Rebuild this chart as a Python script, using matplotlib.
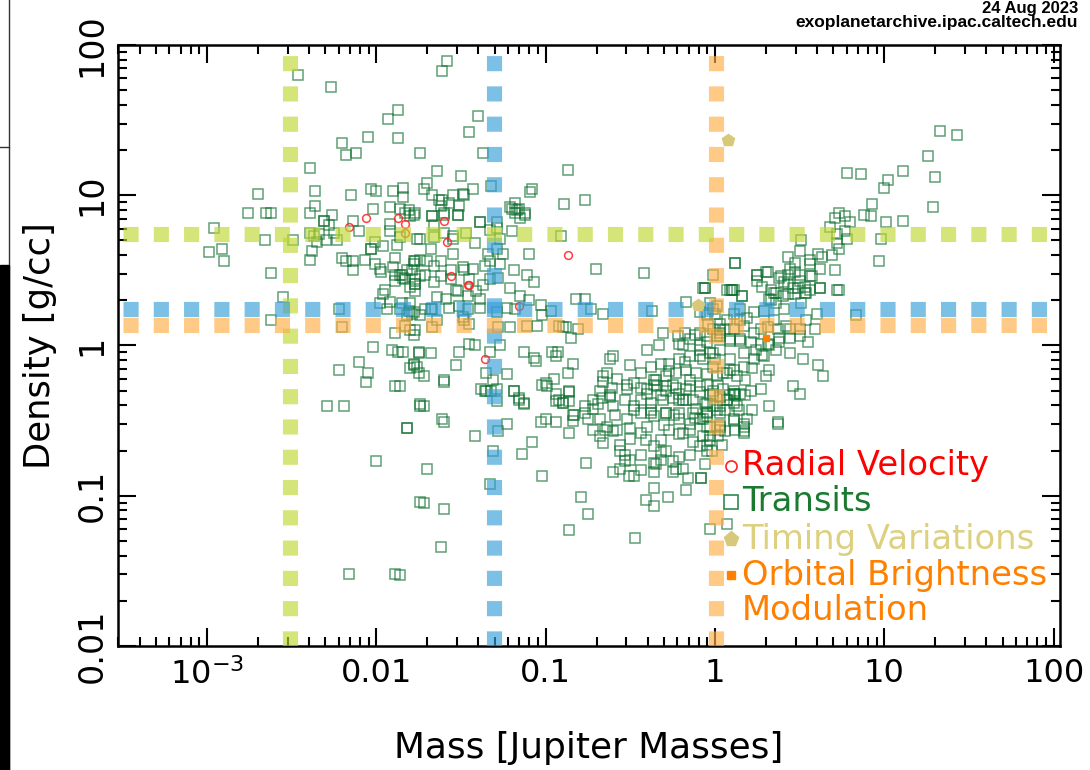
import numpy as np
import matplotlib
matplotlib.use("Agg")
import matplotlib.pyplot as plt
from matplotlib.ticker import FixedLocator, LogLocator, NullFormatter
from matplotlib.patches import Rectangle
from matplotlib.lines import Line2D

plt.rcParams['font.family'] = ['DejaVu Sans']
plt.rcParams['mathtext.default'] = 'regular'

# reference planets: Earth, Neptune, Jupiter (mass [MJ], density [g/cc])
ref_names = ["Earth", "Neptune", "Jupiter"]
ref_mass = [0.00308, 0.0495, 1.02]
ref_dens = [5.51, 1.74, 1.37]
ref_colors = ["#c0d732", "#379ed8", "#ffac46"]

x_ticks = [1e-3, 1e-2, 1e-1, 1, 10, 100]
x_ticklabels = [r"$10^{-3}$", "0.01", "0.1", "1", "10", "100"]
y_ticks = [0.01, 0.1, 1, 10, 100]
y_ticklabels = ["0.01", "0.1", "1", "10", "100"]

# values, as (log10 mass, log10 density)
rv_pts = [(-2.16, 0.79), (-2.06, 0.85), (-1.87, 0.85), (-1.83, 0.81), (-1.83, 0.75),
          (-1.60, 0.83), (-1.58, 0.69), (-1.56, 0.46), (-1.46, 0.40), (-1.455, 0.405),
          (-0.87, 0.60), (-1.36, -0.09), (-1.16, 0.26)]

ttv_pts = [(0.077, 1.367), (-0.10, 0.267)]
obm_pts = [(0.30, 0.047)]

transits_a = [(-2.46, 1.80), (-2.27, 1.72), (-1.87, 1.57), (-1.93, 1.51), (-2.05, 1.39), (-1.87, 1.38),
              (-2.20, 1.35), (-2.18, 1.27), (-2.12, 1.28), (-1.74, 1.28), (-2.39, 1.18), (-2.70, 1.01),
              (-2.36, 1.03), (-2.15, 1.00), (-2.03, 1.04), (-2.00, 1.03), (-1.90, 1.03), (-1.84, 1.05),
              (-1.84, 0.99), (-2.36, 0.93), (-2.76, 0.88), (-2.65, 0.88), (-2.62, 0.88), (-2.39, 0.88),
              (-2.26, 0.87), (-2.02, 0.91), (-1.92, 0.92), (-1.86, 0.91), (-1.81, 0.90), (-2.14, 0.83),
              (-2.31, 0.83), (-1.92, 0.81), (-2.96, 0.78), (-1.78, 0.87)]

transits_b = [(-1.585, 1.895), (-1.61, 1.83), (-1.40, 1.53), (-1.45, 1.42), (-1.37, 1.28), (-1.64, 1.16),
              (-1.50, 1.13), (-0.87, 1.17), (-1.72, 1.04), (-1.70, 1.08), (-1.67, 1.00), (-1.63, 0.97),
              (-1.61, 0.97), (-1.57, 0.95), (-1.55, 1.00), (-1.49, 1.01), (-1.48, 1.00), (-1.43, 1.04),
              (-1.32, 1.06), (-1.09, 1.02), (-1.08, 1.04), (-0.89, 0.94), (-0.77, 0.97), (-1.18, 0.95),
              (-1.20, 0.91), (-1.17, 0.90), (-1.12, 0.88), (-1.15, 0.85), (-1.39, 0.82), (-1.52, 0.87),
              (-1.67, 0.86), (-1.60, 0.87), (-1.83, 0.88), (-1.33, 0.77), (-1.29, 0.78), (-1.20, 0.76),
              (-0.91, 0.73), (-1.55, 0.73)]

transits_c = [(-2.99, 0.62), (-2.91, 0.64), (-2.90, 0.56), (-2.66, 0.70), (-2.49, 0.70), (-2.62, 0.48),
              (-2.55, 0.32), (-2.62, 0.17), (-2.22, 0.24), (-2.20, 0.12), (-2.38, 0.63), (-2.39, 0.57),
              (-2.39, 0.75), (-2.37, 0.73), (-2.34, 0.74), (-2.30, 0.70), (-2.35, 0.69), (-2.25, 0.75),
              (-2.23, 0.70), (-2.28, 0.80), (-2.31, 0.83), (-2.20, 0.58), (-2.18, 0.56), (-2.14, 0.56),
              (-2.14, 0.50), (-2.07, 0.57), (-2.03, 0.64), (-2.01, 0.69), (-2.01, 0.54), (-1.96, 0.66),
              (-1.97, 0.49), (-1.92, 0.76), (-1.88, 0.67), (-1.89, 0.58), (-1.90, 0.52), (-1.89, 0.47),
              (-1.85, 0.47), (-1.84, 0.45), (-1.79, 0.50), (-1.78, 0.56), (-1.77, 0.44), (-1.77, 0.36),
              (-1.77, 0.41), (-1.95, 0.37), (-1.96, 0.34), (-1.98, 0.28), (-1.94, 0.24), (-1.92, 0.29),
              (-1.85, 0.28), (-1.81, 0.23), (-1.79, 0.21), (-1.89, 0.08), (-1.80, 0.10), (-1.78, 0.07),
              (-2.02, -0.01), (-1.91, -0.03), (-1.87, -0.04), (-1.75, -0.04), (-2.10, -0.11), (-2.22, -0.16),
              (-2.05, -0.18), (-2.06, -0.24), (-1.89, -0.27), (-1.80, -0.15), (-1.78, -0.13), (-1.75, -0.18),
              (-2.29, -0.40), (-2.19, -0.40), (-1.74, -0.40), (-1.82, -0.55), (-2.00, -0.77), (-1.74, -1.04),
              (-2.16, -1.52), (-1.89, -1.52)]

transits_d = [(-1.80, 0.86), (-1.77, 0.88), (-1.67, 0.86), (-1.66, 0.80), (-1.62, 0.93), (-1.60, 0.88),
              (-1.52, 0.87), (-1.51, 0.93), (-1.39, 0.82), (-1.29, 0.82), (-1.18, 0.88), (-1.12, 0.87),
              (-1.16, 0.91), (-1.21, 0.92), (-1.86, 0.72), (-1.76, 0.71), (-1.66, 0.72), (-1.60, 0.75),
              (-1.55, 0.71), (-1.47, 0.75), (-1.42, 0.68), (-1.29, 0.64), (-1.25, 0.61), (-1.34, 0.61),
              (-1.10, 0.61), (-1.11, 0.47), (-1.19, 0.50), (-1.27, 0.54), (-1.36, 0.53), (-1.43, 0.51),
              (-1.48, 0.50), (-1.56, 0.50), (-1.62, 0.46), (-1.66, 0.53), (-1.70, 0.56), (-1.74, 0.57),
              (-1.78, 0.54), (-1.82, 0.50), (-1.86, 0.47), (-1.83, 0.44), (-1.77, 0.41), (-1.74, 0.46),
              (-1.66, 0.42), (-1.56, 0.44), (-1.53, 0.37), (-1.46, 0.33), (-1.41, 0.36), (-1.37, 0.40),
              (-1.33, 0.44), (-1.28, 0.45), (-1.21, 0.38), (-1.15, 0.33), (-1.07, 0.42), (-1.10, 0.30),
              (-1.18, 0.24), (-1.23, 0.25), (-1.29, 0.22), (-1.39, 0.25), (-1.46, 0.24), (-1.51, 0.26),
              (-1.57, 0.25), (-1.64, 0.32), (-1.68, 0.24), (-1.71, 0.24), (-1.80, 0.28), (-1.78, 0.22),
              (-1.86, 0.24), (-1.82, 0.20), (-1.64, 0.17), (-1.67, 0.12), (-1.77, 0.10), (-1.83, 0.13),
              (-1.74, 0.20), (-1.48, 0.17), (-1.45, 0.14), (-1.28, 0.12), (-1.21, 0.12), (-1.11, 0.13),
              (-1.03, 0.27), (-1.02, 0.20), (-1.05, 0.13), (-0.97, 0.23), (-0.88, 0.12), (-0.90, 0.12),
              (-0.85, 0.05), (-0.96, -0.04), (-0.93, -0.04), (-0.94, -0.07), (-0.84, -0.12), (-1.13, -0.04),
              (-1.07, -0.08), (-1.06, -0.10), (-1.27, 0.00), (-1.45, 0.01), (-1.42, 0.00), (-1.51, -0.04),
              (-1.33, -0.04), (-1.68, -0.05), (-1.75, -0.05), (-1.84, -0.04), (-1.76, -0.14), (-1.78, -0.12),
              (-1.72, -0.20), (-1.60, -0.23), (-1.53, -0.13), (-1.35, -0.18), (-1.31, -0.23), (-1.23, -0.19),
              (-1.29, -0.29), (-1.35, -0.30), (-1.38, -0.29), (-1.19, -0.30), (-1.16, -0.36), (-1.13, -0.38),
              (-1.00, -0.25), (-0.95, -0.22), (-0.87, -0.18), (-0.86, -0.30), (-0.94, -0.37), (-0.90, -0.38),
              (-0.72, -0.36), (-0.77, -0.40), (-0.84, -0.46), (-0.62, -0.34), (-0.68, -0.30), (-0.64, -0.18),
              (-0.60, -0.07), (-0.62, -0.09), (-0.58, -0.22), (-0.52, -0.29), (-0.50, -0.13), (-0.70, 0.51),
              (-0.42, 0.48), (-0.37, 0.23), (-0.66, 0.21), (-0.73, 0.24), (-0.81, 0.11), (-0.92, 0.13),
              (-0.77, 0.31), (-0.82, 0.31), (-1.74, -0.39), (-1.61, -0.49)]

transits_d2 = [(-1.68, 0.64), (-1.62, 0.56), (-1.55, 0.61), (-1.49, 0.52), (-1.45, 0.44), (-1.71, 0.47),
               (-1.77, 0.56), (-1.52, 0.36), (-1.59, 0.31), (-1.39, 0.31), (-1.33, 0.56), (-1.27, 0.71),
               (-1.74, 0.71), (-1.80, 0.39), (-1.67, 0.24), (-1.49, 0.19), (-1.98, 0.51), (-1.89, 0.43),
               (-2.03, 0.64), (-2.10, 0.76)]

transits_e = [(-0.40, -0.03), (-0.33, 0.00), (-0.31, 0.08), (-0.22, 0.06), (-0.19, 0.00), (-0.15, 0.04),
              (-0.09, 0.00), (-0.05, 0.02), (0.01, 0.06), (0.03, 0.08), (0.09, 0.04), (-0.01, -0.05),
              (-0.09, -0.07), (-0.15, -0.07), (-0.21, -0.09), (-0.27, -0.12), (-0.32, -0.12), (-0.38, -0.14),
              (-0.44, -0.18), (-0.36, -0.23), (-0.29, -0.20), (-0.23, -0.18), (-0.17, -0.16), (-0.11, -0.18),
              (-0.05, -0.19), (0.01, -0.20), (0.07, -0.18), (0.13, -0.20), (-0.48, -0.25), (-0.40, -0.29),
              (-0.34, -0.27), (-0.29, -0.27), (-0.23, -0.28), (-0.17, -0.29), (-0.09, -0.27), (-0.01, -0.30),
              (0.05, -0.29), (0.11, -0.30), (-0.44, -0.36), (-0.38, -0.38), (-0.31, -0.36), (-0.25, -0.35),
              (-0.19, -0.36), (-0.13, -0.36), (-0.05, -0.38), (0.03, -0.40), (0.11, -0.38), (-0.48, -0.43),
              (-0.38, -0.45), (-0.29, -0.45), (-0.21, -0.45), (-0.13, -0.45), (-0.05, -0.47), (0.03, -0.45),
              (-0.06, 0.38), (0.07, 0.37), (0.10, 0.37), (0.12, 0.55), (-0.17, 0.29), (-0.01, 0.24),
              (0.01, 0.26), (-0.05, 0.20), (0.03, 0.10), (-0.09, 0.08), (-0.18, 0.08)]

transits_e2 = [(-0.15, -0.23), (-0.09, -0.31), (-0.06, -0.39), (-0.12, -0.48), (-0.21, -0.36), (-0.25, -0.26),
               (-0.32, -0.33), (-0.38, -0.43), (-0.30, -0.53), (-0.21, -0.59), (-0.03, -0.63), (0.03, -0.53),
               (0.06, -0.43), (0.12, -0.33), (0.18, -0.23), (0.09, -0.16), (0.00, -0.09), (-0.09, -0.03),
               (-0.18, -0.11), (-0.27, -0.17), (-0.35, -0.23), (-0.44, -0.28), (-0.53, -0.36), (-0.59, -0.46),
               (-0.50, -0.55), (-0.41, -0.63), (-0.32, -0.71), (-0.15, -0.73), (-0.06, -0.79), (0.15, 0.04),
               (0.24, -0.03), (0.27, 0.11), (0.35, 0.17), (0.41, 0.24), (0.32, 0.31), (0.47, 0.34),
               (0.50, 0.47), (0.56, 0.37), (0.62, 0.51), (0.44, 0.11), (0.15, 0.17), (0.06, 0.11),
               (-0.04, 0.14), (-0.12, 0.07), (-0.21, 0.01), (-0.66, -0.20), (-0.61, -0.28), (-0.69, -0.39),
               (-0.75, -0.49), (-0.65, -0.56), (-0.56, -0.66), (-0.44, -0.73), (-0.35, -0.79), (-0.25, -0.84),
               (-0.16, -0.88), (-0.44, -0.83), (-0.53, -0.77), (-0.09, -0.49), (-0.15, -0.56), (-0.24, -0.46),
               (-0.03, -0.33), (0.02, -0.26), (0.08, -0.33), (0.14, -0.43), (0.19, -0.49), (0.12, -0.56),
               (0.04, -0.66), (0.18, -0.33), (0.22, -0.15), (0.28, -0.06), (0.31, 0.01), (0.38, 0.05),
               (-0.92, -0.36), (-0.83, -0.46), (-1.00, -0.49)]

transits_f = [(-1.86, -0.27), (-1.72, -0.40), (-1.60, -0.24), (-1.82, -0.55), (-1.60, -0.51), (-1.42, -0.60),
              (-1.70, -0.82), (-1.72, -1.05), (-1.60, -1.09), (-1.62, -1.34), (-1.86, -1.53), (-1.32, -0.30),
              (-1.36, -0.30), (-1.29, -0.37), (-1.19, -0.30), (-1.16, -0.35), (-1.13, -0.39), (-1.02, -0.26),
              (-0.99, -0.27), (-0.94, -0.32), (-0.90, -0.38), (-0.86, -0.31), (-0.86, -0.37), (-1.03, -0.51),
              (-0.94, -0.51), (-0.84, -0.50), (-1.28, -0.57), (-1.23, -0.52), (-1.31, -0.70), (-1.33, -0.92),
              (-1.08, -0.64), (-1.14, -0.72), (-1.02, -0.87), (-0.86, -0.58), (-0.77, -0.45), (-0.68, -0.49),
              (-0.72, -0.42), (-0.67, -0.35), (-0.62, -0.33), (-0.60, -0.40), (-0.76, -0.78), (-0.79, -1.01),
              (-0.75, -1.12), (-0.86, -1.23), (-0.47, -1.28), (-0.36, -0.95), (-0.41, -1.03), (-0.36, -1.07),
              (-0.28, -1.01), (-0.17, -0.96), (-0.08, -0.88), (-0.03, -1.22), (0.07, -1.19), (-0.51, -0.87),
              (-0.48, -0.87), (-0.60, -0.84), (-0.56, -0.82), (-0.50, -0.76), (-0.56, -0.70), (-0.53, -0.73),
              (-0.60, -0.57), (-0.68, -0.60), (-0.72, -0.56), (-0.66, -0.65), (-0.50, -0.62), (-0.44, -0.58),
              (-0.40, -0.54), (-0.36, -0.67), (-0.32, -0.63), (-0.29, -0.70), (-0.25, -0.77), (-0.21, -0.74),
              (-0.19, -0.82), (-0.23, -0.82), (-0.36, -0.84), (-0.36, -0.78), (-0.32, -0.76), (-0.27, -0.56),
              (-0.19, -0.58), (-0.13, -0.64), (-0.09, -0.67), (-0.05, -0.70), (-0.15, -0.52), (-0.21, -0.49),
              (-0.29, -0.45), (-0.36, -0.47), (-0.44, -0.45), (-0.48, -0.40), (-0.52, -0.49), (-0.58, -0.56),
              (-0.64, -0.54), (-0.40, -0.32), (-0.36, -0.26), (-0.29, -0.30), (-0.21, -0.32), (-0.17, -0.36),
              (-0.11, -0.42), (-0.05, -0.44), (0.01, -0.43), (0.07, -0.36), (0.11, -0.32), (-0.52, -0.26),
              (-0.66, -0.24), (-0.15, -0.27), (-0.05, -0.26), (-0.01, -0.32)]

transits_g = [(0.12, 0.55), (-0.07, 0.38), (0.10, 0.37), (0.16, 0.33), (0.25, 0.47), (0.31, 0.49),
              (0.38, 0.45), (0.43, 0.41), (0.50, 0.43), (0.56, 0.46), (0.62, 0.38), (0.72, 0.37),
              (0.51, 0.28), (0.54, 0.35), (0.43, 0.34), (0.35, 0.35), (0.33, 0.30), (0.36, 0.28),
              (0.29, 0.23), (0.23, 0.22), (0.19, 0.18), (0.15, 0.24), (0.11, 0.21), (0.07, 0.17),
              (0.03, 0.14), (-0.01, 0.11), (-0.05, 0.06), (0.03, 0.06), (0.11, 0.11), (0.17, 0.13),
              (0.23, 0.08), (0.31, 0.12), (0.37, 0.11), (0.42, 0.13), (0.50, 0.11), (0.54, 0.17),
              (0.60, 0.21), (0.59, 0.11), (0.50, 0.06), (0.44, 0.05), (0.38, 0.02), (0.32, 0.00),
              (0.27, 0.01), (0.21, 0.02), (0.15, 0.03), (0.09, 0.03), (0.03, -0.03), (-0.03, -0.05),
              (-0.07, -0.09), (-0.01, -0.14), (0.05, -0.18), (0.11, -0.16), (0.17, -0.14), (0.23, -0.09),
              (0.29, -0.07), (0.32, -0.16), (0.30, -0.20), (0.27, -0.29), (0.21, -0.30), (0.15, -0.32),
              (0.11, -0.32), (0.07, -0.36), (0.03, -0.34), (-0.01, -0.40), (-0.05, -0.45), (-0.07, -0.49),
              (-0.03, -0.54), (0.03, -0.56), (0.11, -0.49), (0.17, -0.52), (0.17, -0.57), (0.13, -0.40),
              (0.22, -0.43), (0.32, -0.40), (0.37, -0.51), (0.52, -0.09), (0.61, -0.13), (0.64, -0.20),
              (0.46, -0.27), (0.50, -0.32), (0.55, 0.02), (0.44, -0.05), (0.36, -0.03), (0.83, 0.20),
              (-0.09, 0.22), (-0.03, 0.28), (0.00, 0.21), (0.09, -0.09), (0.17, -0.05),
              (0.37, -0.52), (0.17, -0.54), (0.17, -0.58), (0.11, -0.50), (0.06, -0.57), (0.02, -0.60),
              (-0.03, -0.60), (-0.07, -0.60), (-0.05, -0.66), (-0.02, -0.70), (-0.08, -0.88), (0.03, -0.54),
              (-0.05, -0.54)]

transits_h = [(1.33, 1.43), (1.43, 1.40), (1.26, 1.26), (1.30, 1.12), (0.78, 1.15), (0.86, 1.14),
              (1.11, 1.16), (1.02, 1.10), (1.00, 1.05), (1.29, 0.92), (0.93, 0.94), (0.88, 0.87),
              (0.92, 0.86), (1.01, 0.82), (1.11, 0.83), (0.73, 0.88), (0.77, 0.86), (0.71, 0.85),
              (0.68, 0.79), (0.80, 0.82), (0.77, 0.76), (0.78, 0.71), (0.72, 0.74), (0.72, 0.68),
              (0.73, 0.64), (0.98, 0.71), (0.97, 0.56), (0.51, 0.70), (0.71, 0.50), (0.73, 0.37),
              (0.50, 0.63), (0.43, 0.59), (0.47, 0.55), (0.44, 0.51), (0.47, 0.49), (0.43, 0.47),
              (0.56, 0.57), (0.56, 0.54), (0.61, 0.61), (0.63, 0.59), (0.69, 0.60), (0.57, 0.46),
              (0.62, 0.38), (0.53, 0.39), (0.41, 0.42), (0.39, 0.46), (0.30, 0.49), (0.25, 0.47),
              (0.25, 0.43), (0.28, 0.39), (0.33, 0.37), (0.36, 0.35), (0.40, 0.33), (0.46, 0.38),
              (0.49, 0.38), (0.53, 0.35), (-0.01, 0.47), (-0.06, 0.38), (0.09, 0.37), (0.11, 0.37),
              (0.16, 0.33)]

transits = np.array(transits_a + transits_b + transits_c + transits_d + transits_d2 + transits_e
                    + transits_e2 + transits_f + transits_g + transits_h)
rv = np.array(rv_pts)
ttv = np.array(ttv_pts)
obm = np.array(obm_pts)

fig = plt.figure(figsize=(10.9, 7.7), dpi=100)
ax = fig.add_axes([118 / 1090, 1 - 646 / 770, 942 / 1090, 601 / 770])
ax.set_xscale('log')
ax.set_yscale('log')
ax.set_xlim(2.98e-4, 109)
ax.set_ylim(0.01, 100)

ax.plot(10 ** transits[:, 0], 10 ** transits[:, 1], ls='none', marker='s', ms=6.6,
        mfc='none', mec='#0b6e2e', mew=1.1, alpha=0.65, zorder=2)
ax.plot(10 ** rv[:, 0], 10 ** rv[:, 1], ls='none', marker='o', ms=5.6,
        mfc='none', mec='#ff2020', mew=1.1, alpha=0.85, zorder=2)
ax.plot(10 ** ttv[:, 0], 10 ** ttv[:, 1], ls='none', marker='p', ms=9,
        color='#d8c87a', zorder=4)
ax.plot(10 ** obm[:, 0], 10 ** obm[:, 1], ls='none', marker='s', ms=5,
        color='#ff8000', zorder=4)

# dashed reference lines
for m, c in zip(ref_mass, ref_colors):
    ax.plot([m, m], [0.01, 100], color=c, alpha=0.65, lw=10.9, dashes=(1, 1),
            dash_capstyle='butt', zorder=3)
for d, c in zip(ref_dens, ref_colors):
    ax.plot([3.2e-4, 109], [d, d], color=c, alpha=0.65, lw=10.9, dashes=(1, 1),
            dash_capstyle='butt', zorder=3)

# axes styling
for s in ax.spines.values():
    s.set_linewidth(1.8)
ax.xaxis.set_major_locator(FixedLocator(x_ticks))
ax.xaxis.set_minor_locator(LogLocator(base=10, subs=range(2, 10), numticks=30))
ax.xaxis.set_minor_formatter(NullFormatter())
ax.set_xticklabels(x_ticklabels)
ax.yaxis.set_major_locator(FixedLocator(y_ticks))
ax.yaxis.set_minor_locator(LogLocator(base=10, subs=range(2, 10), numticks=30))
ax.yaxis.set_minor_formatter(NullFormatter())
ax.set_yticklabels(y_ticklabels, rotation=90, va='center')
ax.tick_params(which='both', direction='in', top=True, right=True, width=1.5)
ax.tick_params(axis='x', labelsize=23, pad=9)
ax.tick_params(axis='y', labelsize=24, pad=7)
ax.tick_params(which='major', length=13)
ax.tick_params(which='minor', length=6.5)

fig.text(589 / 1090, 1 - 748 / 770, "Mass [Jupiter Masses]", fontsize=25.8,
         ha='center', va='center')
fig.text(40 / 1090, 1 - 346 / 770, "Density [g/cc]", fontsize=25.5, rotation=90,
         ha='center', va='center')

# legend built by hand
leg_labels = ["Radial Velocity", "Transits", "Timing Variations", "Orbital Brightness", "Modulation"]
leg_colors = ["#ff0000", "#1a7a30", "#ddd080", "#ff8000", "#ff8000"]
leg_markers = [dict(marker='o', ms=8, mfc='none', mec='#ff2020', mew=1.2),
               dict(marker='s', ms=10, mfc='none', mec='#2e8b50', mew=1.2),
               dict(marker='p', ms=11, color='#d8c87a'),
               dict(marker='s', ms=6, color='#ff8000'),
               None]
leg_y = [466, 502, 539, 575, 611]
for lab, col, mk, yp in zip(leg_labels, leg_colors, leg_markers, leg_y):
    ya = (646 - yp) / 601
    if mk is not None:
        ax.plot([(731 - 118) / 942], [ya], transform=ax.transAxes, ls='none',
                clip_on=False, zorder=5, **mk)
    ax.text((742 - 118) / 942, ya, lab, transform=ax.transAxes, color=col,
            fontsize=24.3, ha='left', va='center', zorder=5)

fig.text(1078 / 1090, 1 - 1 / 770, "24 Aug 2023", fontsize=12, fontweight='bold',
         family=['Liberation Sans', 'DejaVu Sans'], ha='right', va='top')
fig.text(1078 / 1090, 1 - 15 / 770, "exoplanetarchive.ipac.caltech.edu", fontsize=12.5,
         fontweight='bold', family=['Liberation Sans', 'DejaVu Sans'], ha='right', va='top')

# strip of a neighbouring panel at the left edge
fig.patches.append(Rectangle((0, 0), 8.5 / 1090, 505 / 770, transform=fig.transFigure,
                             color='black', zorder=10))
fig.lines.append(Line2D([9 / 1090, 9 / 1090], [0, 1], transform=fig.transFigure,
                        color='#333333', lw=1))
fig.lines.append(Line2D([0, 9 / 1090], [1 - 147 / 770, 1 - 147 / 770], transform=fig.transFigure,
                        color='#333333', lw=1))

fig.savefig("out.png", dpi=100)
